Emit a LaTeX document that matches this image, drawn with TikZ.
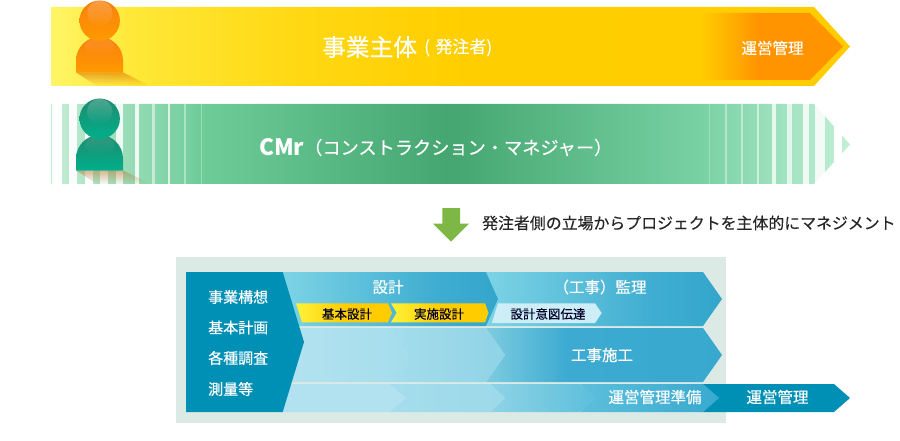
\documentclass[tikz,border=0pt]{standalone}
\usepackage{fontspec}
\setmainfont{Noto Sans CJK JP}
\newfontfamily\jpmed[FakeBold=0.3]{Noto Sans CJK JP}
\newfontfamily\jphead[FakeBold=0.45]{Noto Sans CJK JP}
\usetikzlibrary{fadings}
\definecolor{panelc}{HTML}{DCEAE5}
\definecolor{deepb}{HTML}{0090B5}
\definecolor{midb}{HTML}{38A9CF}
\definecolor{liteb}{HTML}{86D5E8}
\definecolor{ohead}{HTML}{F9800F}
\definecolor{obot}{HTML}{FF9A00}
\definecolor{gheadt}{HTML}{1F8A70}
\definecolor{gbot}{HTML}{00B08A}
\definecolor{arrowg}{HTML}{7DB847}
\definecolor{subbar}{HTML}{CDEEF7}
\definecolor{ylite}{HTML}{FFF23A}
\definecolor{ymid}{HTML}{FFCC00}
\definecolor{rowa}{HTML}{B2E2EF}
\definecolor{rowb}{HTML}{A5DDEC}
\definecolor{rowc}{HTML}{8FD3E6}
\definecolor{rowd}{HTML}{5CBFDB}
\pgfdeclarehorizontalshading{topbar}{100bp}{
 rgb(0bp)=(1,.96,.40); rgb(25bp)=(1,.96,.40); rgb(30bp)=(1,.91,.22); rgb(40bp)=(1,.85,.08); rgb(50bp)=(1,.81,0); rgb(75bp)=(1,.8,0); rgb(100bp)=(1,.8,0)}
\pgfdeclarehorizontalshading{orangebar}{100bp}{
 rgb(0bp)=(1,.8,0); rgb(25bp)=(1,.8,0); rgb(45bp)=(1,.58,0); rgb(75bp)=(1,.58,0); rgb(100bp)=(1,.58,0)}
\pgfdeclarehorizontalshading{greenbar}{100bp}{
 rgb(0bp)=(.77,.93,.84); rgb(25bp)=(.77,.93,.84); rgb(34.4bp)=(.43,.80,.60); rgb(50bp)=(.27,.65,.44); rgb(65.6bp)=(.47,.82,.64); rgb(75bp)=(.76,.94,.84); rgb(100bp)=(.76,.94,.84)}
\pgfdeclarehorizontalshading{monitor}{100bp}{
 rgb(0bp)=(.49,.83,.90); rgb(25bp)=(.49,.83,.90); rgb(60bp)=(.25,.68,.82); rgb(75bp)=(.2,.65,.80); rgb(100bp)=(.2,.65,.80)}
\pgfdeclarehorizontalshading{worksh}{100bp}{
 rgb(0bp)=(.49,.80,.88); rgb(25bp)=(.49,.80,.88); rgb(42bp)=(.24,.67,.82); rgb(75bp)=(.22,.66,.81); rgb(100bp)=(.22,.66,.81)}
\tikzset{
 whitelabel/.style={text=white,font=\jpmed\fontsize{15.5}{15.5}\selectfont,inner sep=0pt,anchor=center},
 inklabel/.style={text=black!85!blue,font=\jpmed\fontsize{12.5}{12.5}\selectfont,inner sep=0pt,anchor=center},
 leftlabel/.style={text=white,font=\jpmed\fontsize{15}{15}\selectfont,inner sep=0pt,anchor=west},
 sepgap/.style={fill=white,draw=none},
 shine/.style={fill=white,fill opacity=.22,path fading=south},
}
% person: #1 y offset, #2 top colour, #3 bottom colour, #4 shadow
\newcommand{\personfig}[4]{%
 \begin{scope}[yshift=-#1pt]
  \fill[#4,fill opacity=.55,path fading=south] (76,72.5) -- (97,86) -- (150,86) -- (123,72.5) -- cycle;
  \shade[top color=#2,bottom color=#3] (76,72.7) -- (76,60.5) arc[start angle=180,end angle=360,x radius=23.5,y radius=23.5] -- (123,72.7) -- cycle;
  \fill[shine,fill opacity=.10] (99.5,47) ellipse[x radius=15,y radius=9];
  \shade[top color=#2,bottom color=#3] (99.7,20.7) circle[radius=20.2];
  \fill[shine] (99.7,13.5) circle[radius=12.8];
 \end{scope}}
\begin{document}
\begin{tikzpicture}[x=1pt,y=-1pt]
\useasboundingbox (0,0) rectangle (900,441);
% top bar
\shade[shading=topbar] (51,7) -- (814,7) -- (850,46.5) -- (814,86) -- (51,86) -- cycle;
\shade[shading=orangebar] (702,13) -- (810,13) -- (843,46.5) -- (810,80) -- (702,80) -- cycle;
\personfig{0}{ohead}{obot}{orange!85!black}
\node[text=white,font=\jphead\fontsize{23.7}{24}\selectfont,inner sep=0pt,anchor=west] (owner) at (322,47) {事業主体};
\node[text=white,font=\jpmed\fontsize{17}{17}\selectfont,inner sep=0pt,anchor=west] (ownersub) at (424,47.5) {(\hspace{5.5pt}発注者)};
\node[whitelabel] (opa) at (772.5,48) {運営管理};
% green bar
\shade[shading=greenbar] (51,104) -- (814,104) -- (850,144.5) -- (814,184) -- (51,184) -- cycle;
\foreach \a/\b/\o in {52/62/1,69/77/.95,85/93/.95,100/108/.9,116/123/.85,135/139/.85,152/155/.5,168/170/.75,184/186/.4,201/202/.3,
 709/710/.25,725/727/.4,741/743/.45,757/759/.55,772/776/.75,787/792/.7,803/809/.8,815/825/.85,834/842/1}
 {\fill[sepgap,fill opacity=\o] (\a,103) rectangle (\b,185);}
\personfig{98}{gheadt}{gbot}{brown}
\node[text=white,font=\bfseries\fontsize{22.5}{24}\selectfont,inner sep=0pt,anchor=west] (cmr) at (259,147) {CMr};
\node[text=white,font=\jpmed\fontsize{18.2}{19}\selectfont,inner sep=0pt,anchor=west] (cmrsub) at (304,147.5) {（コンストラクション・マネジャー）};
% down arrow and caption
\fill[arrowg] (442.3,208) -- (460,208) -- (460,223.5) -- (469,223.5) -- (451,241.7) -- (433,223.5) -- (442.3,223.5) -- cycle;
\node[text=black!85,font=\jpmed\fontsize{15.9}{16}\selectfont,inner sep=0pt,anchor=west] (caption) at (482,223) {発注者側の立場からプロジェクトを主体的にマネジメント};
% panel
\fill[panelc] (176,257) rectangle (726,423);
% row 1
\shade[shading=monitor] (486,272) -- (703,272) -- (722,299) -- (703,326) -- (483,326) -- (498,299) -- cycle;
\shade[shading=monitor] (282,272) -- (486,272) -- (498,299) -- (486,326) -- (299,326) -- cycle;
% row 2
\shade[shading=worksh] (486,328) -- (703,328) -- (722,355) -- (703,382) -- (486,382) -- (505,355) -- cycle;
\shade[left color=rowb,right color=rowc] (389,328) -- (486,328) -- (505,355) -- (486,382) -- (389,382) -- (408,355) -- cycle;
\shade[left color=rowa,right color=rowb] (300,328) -- (389,328) -- (408,355) -- (389,382) -- (290,382) -- (304,342) -- cycle;
% row 3
\shade[left color=rowd,right color=midb] (580,384) -- (703,384) -- (719,398) -- (703,412) -- (580,412) -- (595,398) -- cycle;
\shade[left color=rowc,right color=rowd] (490,384) -- (580,384) -- (595,398) -- (580,412) -- (490,412) -- (505,398) -- cycle;
\shade[left color=rowb,right color=rowb!60!rowc] (389,384) -- (490,384) -- (505,398) -- (490,412) -- (389,412) -- (406,398) -- cycle;
\fill[rowa] (291,384) -- (389,384) -- (406,398) -- (389,412) -- (282,412) -- cycle;
% operation arrow
\fill[deepb] (703,384) -- (834,384) -- (850,398) -- (834,412) -- (703,412) -- (719,398) -- cycle;
% left pentagon
\fill[deepb] (186,272) -- (282.7,272) -- (304,342) -- (282.7,412) -- (186,412) -- cycle;
% yellow sub arrows
\shade[left color=ylite,right color=ymid,middle color=ymid] (296,303.3) -- (388,303.3) -- (392,312.8) -- (388,322.3) -- (302,322.3) -- cycle;
\shade[left color=ylite,right color=ymid,middle color=ymid] (391,303.3) -- (485,303.3) -- (488.5,312.8) -- (485,322.3) -- (391,322.3) -- (396.7,312.8) -- cycle;
\fill[subbar] (498,303.3) -- (595,303.3) -- (601.7,313) -- (595,323) -- (491.7,323) -- cycle;
% labels
\node[leftlabel] (l1) at (208,297) {事業構想};
\node[leftlabel] (l2) at (208,327.5) {基本計画};
\node[leftlabel] (l3) at (208,358) {各種調査};
\node[leftlabel] (l4) at (208,389) {測量等};
\node[whitelabel] (design) at (388,287) {設計};
\node[whitelabel] (super) at (600,287) {（工事）監理};
\node[inklabel] (d1) at (347,314) {基本設計};
\node[inklabel] (d2) at (439,314) {実施設計};
\node[inklabel] (d3) at (548,314) {設計意図伝達};
\node[whitelabel] (work) at (602,355) {工事施工};
\node[whitelabel] (prep) at (655,397) {運営管理準備};
\node[whitelabel] (oper) at (777.5,397) {運営管理};
\end{tikzpicture}
\end{document}
